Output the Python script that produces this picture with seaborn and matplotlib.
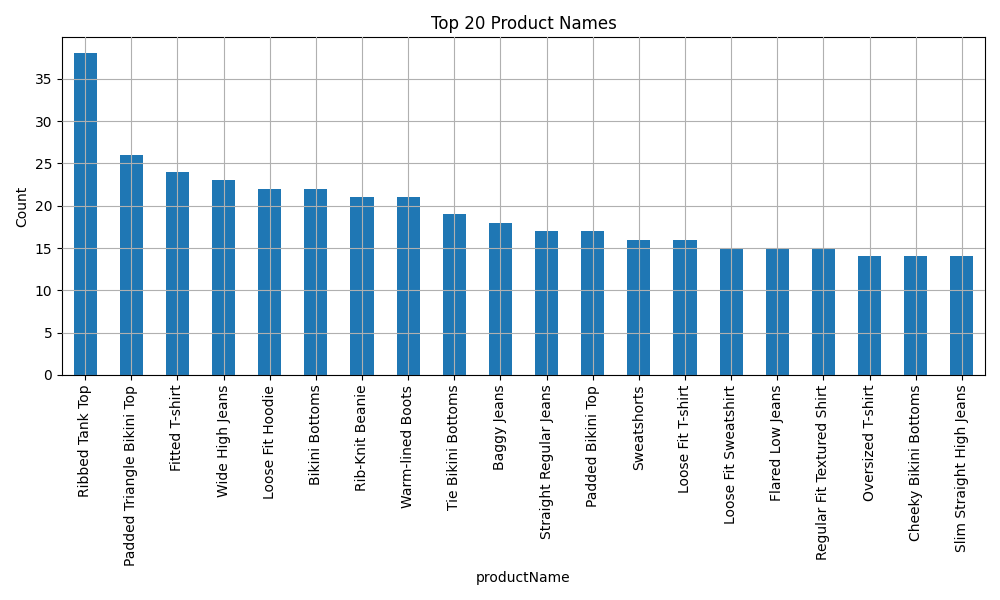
import matplotlib
matplotlib.use("Agg")
import matplotlib.pyplot as plt
import seaborn as sns
import pandas as pd

names = ["Ribbed Tank Top", "Padded Triangle Bikini Top", "Fitted T-shirt", "Wide High Jeans",
         "Loose Fit Hoodie", "Bikini Bottoms", "Rib-Knit Beanie", "Warm-lined Boots",
         "Tie Bikini Bottoms", "Baggy Jeans", "Straight Regular Jeans", "Padded Bikini Top",
         "Sweatshorts", "Loose Fit T-shirt", "Loose Fit Sweatshirt", "Flared Low Jeans",
         "Regular Fit Textured Shirt", "Oversized T-shirt", "Cheeky Bikini Bottoms",
         "Slim Straight High Jeans"]
counts = [38, 26, 24, 23, 22, 22, 21, 21, 19, 18, 17, 17, 16, 16, 15, 15, 15, 14, 14, 14]

df = pd.DataFrame({"productName": names, "Count": counts})
fig, ax = plt.subplots(figsize=(10, 6), dpi=100)
sns.barplot(data=df, x="productName", y="Count", color="#1f77b4", saturation=1, width=0.5, ax=ax)
ax.set_axisbelow(False)
ax.grid(True, color="#b0b0b0", linewidth=0.8)
ax.set_title("Top 20 Product Names")
ax.set_xlabel("productName")
ax.set_ylabel("Count")
ax.tick_params(axis="x", rotation=90)
ax.set_xlim(-0.5, len(names) - 0.5)
ax.set_ylim(0, 39.9)
fig.subplots_adjust(left=0.062, right=0.985, top=0.938, bottom=0.375)
fig.savefig("out.png")
